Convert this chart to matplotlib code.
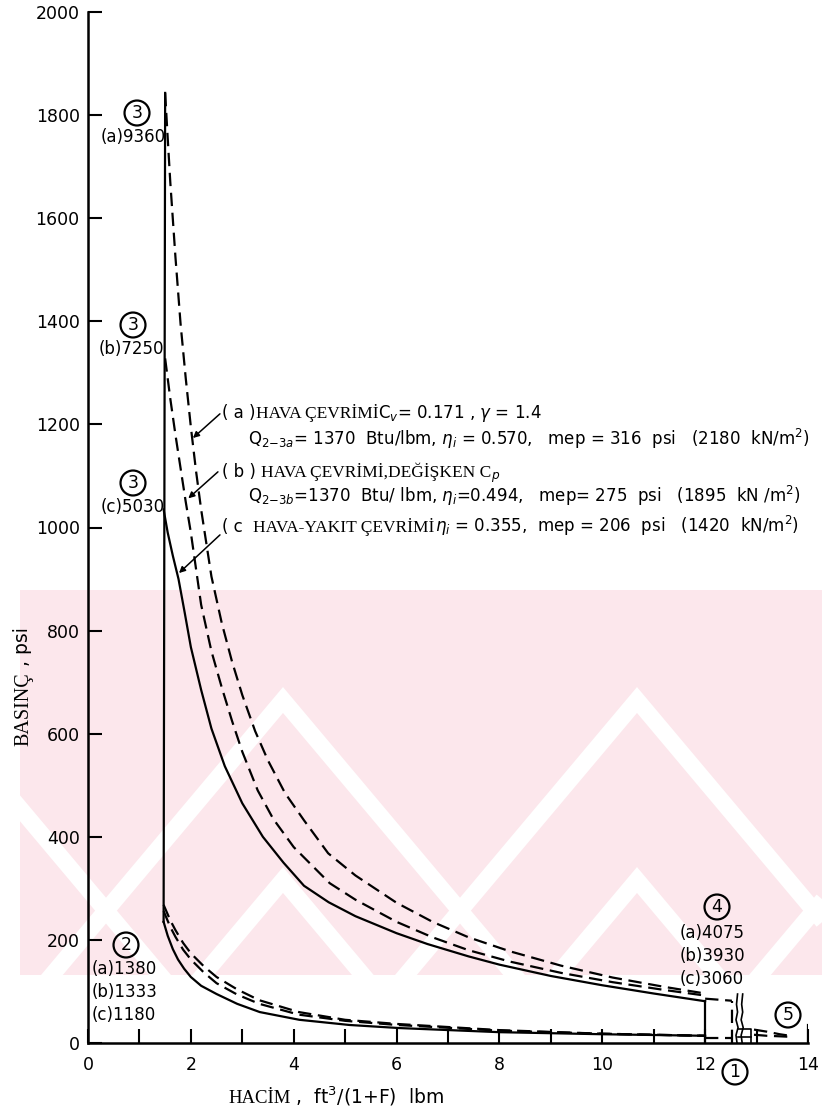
import matplotlib
matplotlib.use("Agg")
import matplotlib.pyplot as plt
from matplotlib.patches import Rectangle

W, H = 822, 1119

# expansion 3 -> 4 (volume ft3, pressure psi)
exp_v_a = [1.50, 1.55, 1.60, 1.70, 1.80, 1.90, 2.00, 2.10, 2.20, 2.40, 2.60, 2.80, 3.00, 3.25,
           3.50, 3.83, 4.20, 4.67, 5.20, 6.00, 6.70, 7.40, 8.20, 9.20, 10.2, 11.2, 12.0]
exp_p_a = [1843, 1755, 1670, 1525, 1395, 1290, 1195, 1110, 1035, 905, 815, 740, 675, 605,
           548, 485, 432, 368, 325, 272, 235, 205, 178, 150, 127, 109, 96]
exp_v_b = [1.50, 1.60, 1.70, 1.80, 1.90, 2.00, 2.20, 2.40, 2.60, 2.80, 3.00, 3.30, 3.60, 4.00,
           4.40, 4.70, 5.20, 6.00, 6.70, 7.40, 8.20, 9.20, 10.2, 11.2, 12.0]
exp_p_b = [1328, 1250, 1180, 1115, 1050, 990, 850, 760, 690, 625, 565, 490, 435, 380,
           340, 310, 278, 235, 205, 180, 158, 136, 118, 103, 92]
exp_v_c = [1.47, 1.55, 1.65, 1.76, 1.88, 2.00, 2.20, 2.40, 2.66, 3.00, 3.40, 3.80, 4.20, 4.68,
           5.20, 6.00, 6.60, 7.40, 8.00, 9.00, 10.0, 11.0, 12.0]
exp_p_c = [1035, 990, 945, 900, 835, 768, 685, 610, 537, 465, 400, 350, 305, 273,
           246, 213, 192, 168, 152, 130, 112, 96, 81]

# compression 1 -> 2
cmp_v_a = [1.47, 1.60, 1.70, 1.85, 2.00, 2.25, 2.50, 2.90, 3.33, 4.10, 5.00, 6.00, 8.00, 10.0, 12.0]
cmp_p_a = [268, 238, 219, 194, 174, 149, 128, 104, 83, 60, 45, 37, 25, 18, 14]
cmp_v_b = [1.47, 1.60, 1.70, 1.85, 2.00, 2.25, 2.50, 2.90, 3.33, 4.10, 5.00, 6.00, 8.00, 10.0, 12.0]
cmp_p_b = [256, 225, 206, 181, 162, 137, 116, 94, 76, 55, 43, 35, 24, 18, 14]
cmp_v_c = [1.47, 1.55, 1.65, 1.75, 1.87, 2.00, 2.20, 2.50, 2.90, 3.34, 4.11, 5.08, 6.05, 8.00, 10.0, 12.0]
cmp_p_c = [235, 208, 182, 162, 144, 128, 111, 95, 76, 60, 45, 35, 29, 21, 17, 14]

# blowdown past the axis break
tail_v = [12.0, 12.52]
tail_p = [86, 82]
low_v = [12.0, 12.52]
low_p = [10, 10]
end_v_a = [12.95, 13.2, 13.45, 13.65]
end_p_a = [26, 22, 17, 14]
end_v_b = [12.95, 13.2, 13.45, 13.65]
end_p_b = [16, 14, 13, 12]

state_temps = {
    "2": ["(a)1380", "(b)1333", "(c)1180"],
    "4": ["(a)4075", "(b)3930", "(c)3060"],
}

serif = "Liberation Serif"
sans = "DejaVu Sans"
plt.rcParams["mathtext.fontset"] = "dejavusans"


def fx(x):
    return x / W


def fy(y):
    return 1 - y / H


fig = plt.figure(figsize=(W / 100, H / 100), dpi=100)
fig.patch.set_facecolor("white")

# faint pink chevron watermark behind the plot (page pixel coords)
bg = fig.add_axes([0, 0, 1, 1], zorder=0)
bg.set_xlim(0, W)
bg.set_ylim(H, 0)
bg.axis("off")
band = Rectangle((20, 590), W - 20, 385, fc="#fce7ec", ec="none")
bg.add_patch(band)
slope = 1.19
for cx in (-71, 283, 637, 991):
    for ya in (700, 880):
        half = (975 - ya) / slope + 30
        ln, = bg.plot([cx - half, cx, cx + half], [ya + half * slope, ya, ya + half * slope],
                      color="white", lw=12, solid_joinstyle="miter", solid_capstyle="butt")
        ln.set_clip_path(band)

ax = fig.add_axes([fx(88), fy(1043), 720 / W, 1031 / H], zorder=1)
ax.set_xlim(0, 14)
ax.set_ylim(0, 2000)
ax.patch.set_alpha(0)
for s in ("top", "right"):
    ax.spines[s].set_visible(False)
for s in ("left", "bottom"):
    ax.spines[s].set_linewidth(1.8)

ax.set_xticks(range(0, 15))
ax.set_xticklabels([str(i) if i % 2 == 0 else "" for i in range(0, 15)])
ax.set_yticks(range(0, 2001, 200))
ax.tick_params(direction="in", length=10, width=1.5, labelsize=12.5)
ax.tick_params(axis="y", pad=6)
ax.tick_params(axis="x", pad=9)

lw = 1.6
dash = dict(color="black", lw=lw, ls=(0, (6, 3)))

# combustion 2 -> 3 line
ax.plot([1.47, 1.50], [cmp_p_c[0], exp_p_a[0]], color="black", lw=lw)

ax.plot(exp_v_a, exp_p_a, **dash)
ax.plot(exp_v_b, exp_p_b, **dash)
ax.plot(exp_v_c, exp_p_c, color="black", lw=lw)
ax.plot(cmp_v_a, cmp_p_a, **dash)
ax.plot(cmp_v_b, cmp_p_b, **dash)
ax.plot(cmp_v_c, cmp_p_c, color="black", lw=lw)

# exhaust at 4c
ax.plot([12.0, 12.0], [0, exp_p_c[-1]], color="black", lw=lw)
ax.plot(tail_v, tail_p, **dash)
ax.plot([12.52, 12.52], [0, tail_p[-1]], **dash)
ax.plot(low_v, low_p, **dash)
ax.plot(end_v_a, end_p_a, **dash)
ax.plot(end_v_b, end_p_b, **dash)
ax.plot([14, 14], [0, 35], color="black", lw=lw)

# axis break
ax.plot([12.62, 12.60, 12.64, 12.60, 12.63, 12.61, 12.63], [0, 15, 30, 45, 60, 75, 95], color="black", lw=1.2)
ax.plot([12.72, 12.70, 12.74, 12.70, 12.73, 12.71, 12.73], [0, 15, 30, 45, 60, 75, 95], color="black", lw=1.2)
ax.plot([12.64, 12.9, 12.9], [28, 28, 0], color="black", lw=1.2)
ax.plot([12.64, 12.9], [12, 12], color="black", lw=1.2)

renderer = fig.canvas.get_renderer()


def run(x, y, parts, rot=0):
    # writes text pieces one after another, each in its own family
    for s, fam, sz in parts:
        t = fig.text(fx(x), fy(y), s, family=fam, fontsize=sz, ha="left", zorder=3,
                     va="baseline", rotation=rot, rotation_mode="anchor")
        bb = t.get_window_extent(renderer)
        if rot == 0:
            x += bb.width
        else:
            y -= bb.height


ts = 12
ss = 12.5
run(222, 418, [("( a )", sans, ts), ("HAVA ÇEVRİMİ", serif, ss), (r"C$_v$= 0.171 , $\gamma$ = 1.4", sans, ts)])
run(248, 445, [(r"Q$_{2\mathsf{-}3a}$= 1370  Btu/lbm, $\eta_i$ = 0.570,   mep = 316  psi   (2180  kN/m$^2$)", sans, ts)])
run(222, 477, [("( b ) ", sans, ts), ("HAVA ÇEVRİMİ,DEĞİŞKEN C", serif, ss), (r"$_p$", serif, ss)])
run(248, 502, [(r"Q$_{2\mathsf{-}3b}$=1370  Btu/ lbm, $\eta_i$=0.494,   mep= 275  psi   (1895  kN /m$^2$)", sans, ts)])
run(222, 532, [("( c  ", sans, ts), ("HAVA-YAKIT ÇEVRİMİ", serif, ss), (r"$\eta_i$ = 0.355,  mep = 206  psi   (1420  kN/m$^2$)", sans, ts)])

arrow = dict(arrowstyle="-|>", color="black", lw=1.1, mutation_scale=9)
ax.annotate("", xy=(2.0, 1170), xytext=(222, H - 412), textcoords="figure pixels", arrowprops=arrow)
ax.annotate("", xy=(1.91, 1053), xytext=(220, H - 470), textcoords="figure pixels", arrowprops=arrow)
ax.annotate("", xy=(1.73, 908), xytext=(222, H - 533), textcoords="figure pixels", arrowprops=arrow)


def circled(x, y, s):
    fig.text(fx(x), fy(y), s, family=sans, fontsize=12.5, ha="center", va="center", zorder=3,
             bbox=dict(boxstyle="circle,pad=0.2", fc="none", ec="black", lw=1.6))


ls = 12
circled(137, 113, "3")
fig.text(fx(133), fy(137), "(a)9360", family=sans, fontsize=ls, ha="center", va="center")
circled(133, 325, "3")
fig.text(fx(164), fy(349), "(b)7250", family=sans, fontsize=ls, ha="right", va="center")
circled(133, 483, "3")
fig.text(fx(165), fy(507), "(c)5030", family=sans, fontsize=ls, ha="right", va="center")
circled(126, 945, "2")
for i, s in enumerate(state_temps["2"]):
    fig.text(fx(92), fy(969 + 23 * i), s, family=sans, fontsize=ls, ha="left", va="center", zorder=3)
circled(717, 907, "4")
for i, s in enumerate(state_temps["4"]):
    fig.text(fx(712), fy(933 + 23 * i), s, family=sans, fontsize=ls, ha="center", va="center", zorder=3)
circled(788, 1015, "5")
circled(735, 1072, "1")

run(28, 746, [("BASINÇ", serif, 14.5), (" , psi", sans, 13.5)], rot=90)
run(228, 1103, [("HACİM", serif, 13.5), (r" ,  ft$^3$/(1+F)  lbm", sans, 13.5)])

fig.savefig("out.png", dpi=100)
